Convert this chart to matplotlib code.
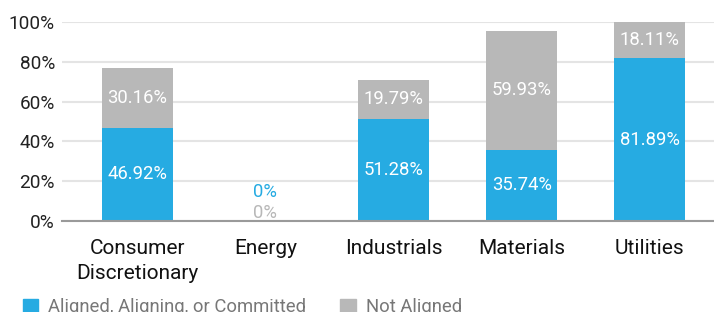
import matplotlib.pyplot as plt
import numpy as np
from matplotlib.patches import Patch

plt.rcParams['font.family'] = ['Roboto', 'DejaVu Sans']

categories = ['Consumer\nDiscretionary', 'Energy', 'Industrials', 'Materials', 'Utilities']
aligned = [46.92, 0, 51.28, 35.74, 81.89]
not_aligned = [30.16, 0, 19.79, 59.93, 18.11]
y_ticks = [0, 20, 40, 60, 80, 100]

BLUE = '#26abe2'
GREY = '#b8b8b8'

fig = plt.figure(figsize=(7.14, 3.12), dpi=100)
ax = fig.add_axes([62 / 714, 1 - 221 / 312, 652 / 714, 199 / 312])

x = np.arange(len(categories))
width = 0.555
ax.bar(x, aligned, width, color=BLUE, zorder=3)
ax.bar(x, not_aligned, width, bottom=aligned, color=GREY, zorder=3)

for i, (a, n) in enumerate(zip(aligned, not_aligned)):
    if a == 0 and n == 0:
        # empty bar: labels stacked just above the baseline
        ax.text(i, 4, '0%', ha='center', va='center', color=GREY, fontsize=13.3)
        ax.text(i, 14.8, '0%', ha='center', va='center', color=BLUE, fontsize=13.3)
        continue
    ax.text(i, a / 2, f'{a:.2f}%', ha='center', va='center', color='white', fontsize=13.3)
    ax.text(i, a + n / 2, f'{n:.2f}%', ha='center', va='center', color='white', fontsize=13.3)

ax.set_ylim(0, 100)
ax.set_xlim(-0.586, 4.5)
ax.set_yticks(y_ticks)
ax.set_yticklabels([f'{t}%' for t in y_ticks], fontsize=13.7, color='#222222')
ax.set_xticks(x)
ax.set_xticklabels(categories, fontsize=15, color='#111111', linespacing=1.4)
ax.tick_params(axis='both', length=0)
ax.tick_params(axis='x', pad=13)
ax.tick_params(axis='y', pad=5)
ax.grid(axis='y', color='#e4e4e4', linewidth=1.5, zorder=0)
for side in ['top', 'right', 'left']:
    ax.spines[side].set_visible(False)
ax.spines['bottom'].set_color('#9a9a9a')
ax.spines['bottom'].set_linewidth(1.5)
ax.spines['bottom'].set_zorder(4)

handles = [Patch(color=BLUE, label='Aligned, Aligning, or Committed'),
           Patch(color=GREY, label='Not Aligned')]
leg = fig.legend(handles=handles, loc='lower left', bbox_to_anchor=(6 / 714, -21 / 312),
                 ncol=2, frameon=False, fontsize=13.3, handlelength=0.85, handleheight=0.85,
                 handletextpad=0.55, columnspacing=1.8, labelcolor='#777777')

fig.savefig('out.png', dpi=100)
